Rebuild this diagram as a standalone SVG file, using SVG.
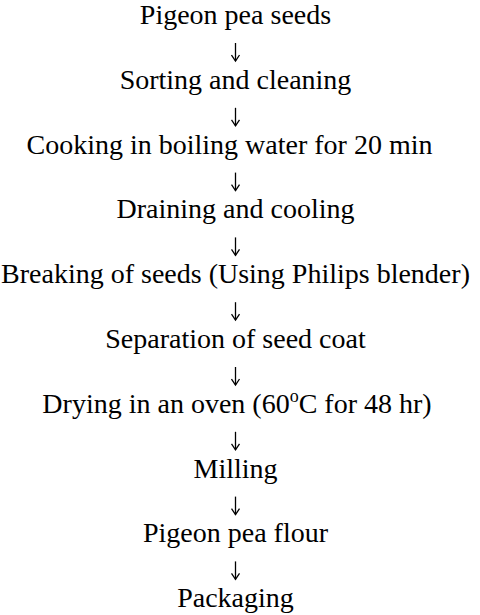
<svg xmlns="http://www.w3.org/2000/svg" width="480" height="615" viewBox="0 0 480 615">
<style>
.t{font-family:"Liberation Serif","Times New Roman",serif;font-size:28px;fill:#000;text-anchor:middle}
.c{stroke:#000;stroke-width:1.3;fill:none}
</style>
<defs>
<marker id="ah" markerWidth="10" markerHeight="10" refX="8.5" refY="5" orient="auto" markerUnits="userSpaceOnUse" viewBox="0 0 10 10">
<path d="M2.5,1 L8.5,5 L2.5,9" fill="none" stroke="#000" stroke-width="1.3"/>
</marker>
</defs>
<rect width="480" height="615" fill="#fff"/>
<g id="connectors">
<line class="c" x1="235.5" y1="43" x2="235.5" y2="61" marker-end="url(#ah)"/>
<line class="c" x1="235.5" y1="107.8" x2="235.5" y2="125.8" marker-end="url(#ah)"/>
<line class="c" x1="235.5" y1="172.6" x2="235.5" y2="190.6" marker-end="url(#ah)"/>
<line class="c" x1="235.5" y1="237.4" x2="235.5" y2="255.4" marker-end="url(#ah)"/>
<line class="c" x1="235.5" y1="302.2" x2="235.5" y2="320.2" marker-end="url(#ah)"/>
<line class="c" x1="235.5" y1="367" x2="235.5" y2="385" marker-end="url(#ah)"/>
<line class="c" x1="235.5" y1="431.8" x2="235.5" y2="449.8" marker-end="url(#ah)"/>
<line class="c" x1="235.5" y1="496.6" x2="235.5" y2="514.6" marker-end="url(#ah)"/>
<line class="c" x1="235.5" y1="561.4" x2="235.5" y2="579.4" marker-end="url(#ah)"/>
</g>
<g id="n1"><text class="t" x="235.5" y="24">Pigeon pea seeds</text></g>
<g id="n2"><text class="t" x="235.5" y="88.8">Sorting and cleaning</text></g>
<g id="n3"><text class="t" x="229.5" y="153.6">Cooking in boiling water for 20 min</text></g>
<g id="n4"><text class="t" x="235.5" y="218.4">Draining and cooling</text></g>
<g id="n5"><text class="t" x="235.5" y="283.2">Breaking of seeds (Using Philips blender)</text></g>
<g id="n6"><text class="t" x="235.5" y="348">Separation of seed coat</text></g>
<g id="n7"><text class="t" x="237" y="412.8">Drying in an oven (60<tspan font-size="18" dy="-11">o</tspan><tspan dy="11">C for 48 hr)</tspan></text></g>
<g id="n8"><text class="t" x="235.5" y="477.6">Milling</text></g>
<g id="n9"><text class="t" x="235.5" y="542.4">Pigeon pea flour</text></g>
<g id="n10"><text class="t" x="235.5" y="607.2">Packaging</text></g>
</svg>
